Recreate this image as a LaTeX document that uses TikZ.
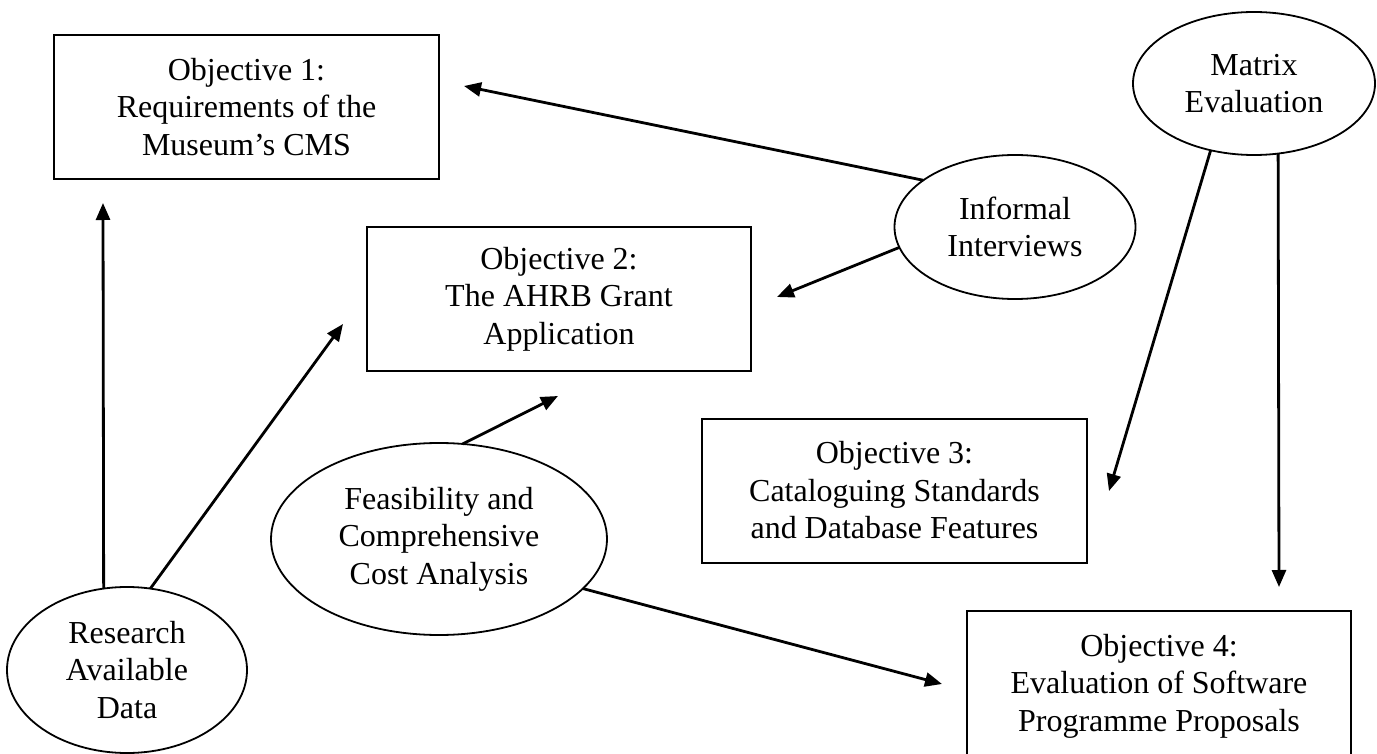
\documentclass[tikz,border=0pt]{standalone}
\usepackage{fontspec}
\setmainfont{Liberation Serif}
\usetikzlibrary{arrows.meta,shapes.geometric}
\begin{document}
\begin{tikzpicture}[x=1pt,y=-1pt,
  every node/.style={font=\fontsize{32}{37.5}\selectfont, align=center, inner sep=0pt, outer sep=0pt},
  objbox/.style={draw, line width=2pt, rectangle, minimum width=#1, minimum height=144pt},
  method/.style={draw, line width=1.8pt, ellipse},
  link/.style={line width=2.8pt, -{Triangle[length=17pt,width=14pt]}}]
  \useasboundingbox (0,0) rectangle (1377,754);
  \clip (0,0) rectangle (1377,754);

  % objectives
  \node[objbox=385pt] (o1) at (246.5,107) {Objective 1:\\Requirements of the\\Museum’s CMS};
  \node[objbox=384pt] (o2) at (559,299) {Objective 2:\\The AHRB Grant\\Application};
  \node[objbox=385pt] (o3) at (894.5,490.5) {Objective 3:\\Cataloguing Standards\\and Database Features};
  \node[objbox=384pt, minimum height=150pt] (o4) at (1159,686) {Objective 4:\\Evaluation of Software\\Programme Proposals};

  % methods
  \node[method, minimum width=240pt, minimum height=166pt] (res) at (127,670) {Research\\Available\\Data};
  \node[method, minimum width=336pt, minimum height=192pt] (fea) at (439,539) {Feasibility and\\Comprehensive\\Cost Analysis};
  \node[method, minimum width=241pt, minimum height=144pt] (inf) at (1015,227) {Informal\\Interviews};
  \node[method, minimum width=242pt, minimum height=143pt] (mat) at (1254,83.5) {Matrix\\Evaluation};

  % arrow tips
  \coordinate (t1) at (103,203);
  \coordinate (t2) at (343,324);
  \coordinate (t3) at (558,396);
  \coordinate (t4) at (464,86);
  \coordinate (t5) at (777,297);
  \coordinate (t6) at (1109,491);
  \coordinate (t7) at (1279,587);
  \coordinate (t8) at (942,684);

  % connectors
  \draw[link] (res.106.3) -- (t1);
  \draw[link] (res.74.3) -- (t2);
  \draw[link] (fea.76.5) -- (t3);
  \draw[link] (fea.341.6) -- (t8);
  \draw[link] (inf.153.2) -- (t4);
  \draw[link] (inf.190.8) -- (t5);
  \draw[link] (mat.237.2) -- (t6);
  \draw[link] (mat.289.3) -- (t7);
\end{tikzpicture}
\end{document}
